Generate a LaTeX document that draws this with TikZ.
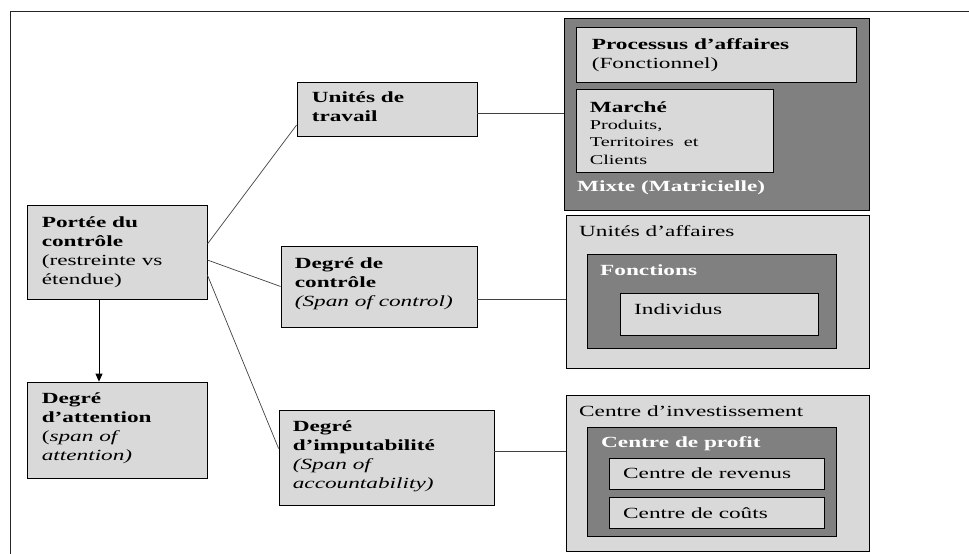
\documentclass[tikz,border=0pt]{standalone}
\usepackage{fontspec}
\setmainfont{Liberation Serif}[FakeStretch=1.5, BoldFeatures={FakeStretch=1.5}, ItalicFeatures={FakeStretch=1.5}]
\usepackage{tikz}
\usetikzlibrary{shapes.geometric, arrows.meta}
\definecolor{boxlight}{HTML}{D9D9D9}
\definecolor{boxdark}{HTML}{808080}
\definecolor{linegray}{HTML}{404040}
\newcommand{\fsize}{\fontsize{15.5}{19}\selectfont}
\newcommand{\fsmall}{\fontsize{13.5}{17.3}\selectfont}
\tikzstyle{box} = [rectangle, draw=black, fill=boxlight, line width=0.8pt, inner sep=0pt]
\tikzstyle{darkbox} = [box, fill=boxdark]
\tikzstyle{txt} = [anchor=west, align=left, inner sep=0pt, font=\fsize]
\tikzstyle{title} = [anchor=base west, inner sep=0pt, font=\fsize]
\tikzstyle{link} = [line width=0.7pt, draw=linegray]
\tikzstyle{arrow} = [line width=0.8pt, -{Triangle[length=8pt,width=7pt]}]

\begin{document}
\begin{tikzpicture}[x=1pt, y=-1pt]

		\useasboundingbox (0,0) rectangle (969,554);
		\draw [line width=0.8pt, draw=black!85] (969,11) -- (10,11) -- (10,554);

		% colonne de gauche
		\node (portee) [box, minimum width=180pt, minimum height=94pt] at (117,252) {};
		\node (porteetxt) [txt] at ([xshift=15pt]portee.west) {\textbf{Portée du}\\\textbf{contrôle}\\(restreinte vs\\étendue)};
		\node (attention) [box, minimum width=180pt, minimum height=96pt] at (117,430) {};
		\node (attentiontxt) [txt] at ([xshift=15pt, yshift=1.5pt]attention.west) {\textbf{Degré}\\\textbf{d’attention}\\(\textit{span of}\\\textit{attention)}};

		% colonne du milieu
		\node (unites) [box, minimum width=180pt, minimum height=54pt] at (387,109) {};
		\node (unitestxt) [txt] at ([xshift=15pt, yshift=2pt]unites.west) {\textbf{Unités de}\\\textbf{travail}};
		\node (controle) [box, minimum width=196pt, minimum height=81pt] at (379,286.5) {};
		\node (controletxt) [txt] at ([xshift=14pt, yshift=3pt]controle.west) {\textbf{Degré de}\\\textbf{contrôle}\\\textit{(Span of control)}};
		\node (imput) [box, minimum width=215pt, minimum height=95pt] at (386.5,457.5) {};
		\node (imputtxt) [txt] at ([xshift=14pt, yshift=1pt]imput.west) {\textbf{Degré}\\\textbf{d’imputabilité}\\\textit{(Span of}\\\textit{accountability)}};

		% colonne de droite
		\node (mixte) [darkbox, minimum width=305pt, minimum height=192pt] at (716.5,114) {};
		\node (processus) [box, minimum width=280pt, minimum height=55pt] at (716,54.5) {};
		\node (processustxt) [txt] at ([xshift=16pt, yshift=-0.5pt]processus.west) {\textbf{Processus d’affaires}\\(Fonctionnel)};
		\node (marche) [box, minimum width=197pt, minimum height=83pt] at (674.5,130.5) {};
		\node (marchetxt) [txt, font=\fsmall] at ([xshift=14pt, yshift=-2.5pt]marche.west) {{\fontsize{15.5}{17.3}\selectfont\textbf{Marché}}\\Produits,\\Territoires\ \ et\\Clients};
		\node (mixtelabel) [title, text=white] at (577,191) {\textbf{Mixte (Matricielle)}};

		\node (uaff) [box, minimum width=303pt, minimum height=153pt] at (717.5,291.5) {};
		\node (uafflabel) [title] at (579,236.5) {Unités d’affaires};
		\node (fonctions) [darkbox, minimum width=249pt, minimum height=94pt] at (711.5,301) {};
		\node (fonctionslabel) [title, text=white] at (600,275) {\textbf{Fonctions}};
		\node (individus) [box, minimum width=198pt, minimum height=42pt] at (719,314) {};
		\node (individuslabel) [title] at (634,314) {Individus};

		\node (cinv) [box, minimum width=303pt, minimum height=156pt] at (717.5,473) {};
		\node (cinvlabel) [title] at (579,416.5) {Centre d’investissement};
		\node (cprofit) [darkbox, minimum width=249pt, minimum height=109pt] at (711.5,481.5) {};
		\node (cprofitlabel) [title, text=white] at (601,447) {\textbf{Centre de profit}};
		\node (crev) [box, minimum width=215pt, minimum height=31pt] at (716.5,473.5) {};
		\node (crevlabel) [title] at (623,478.5) {Centre de revenus};
		\node (ccout) [box, minimum width=215pt, minimum height=31pt] at (716.5,512.5) {};
		\node (ccoutlabel) [title] at (623,518) {Centre de coûts};

		\draw [arrow] (portee.south -| 99,0) -- (attention.north -| 99,0);
		\draw [link] ([yshift=8pt]portee.east) -- ([yshift=-16pt]unites.west);
		\draw [link] ([yshift=-8pt]portee.east) -- (controle.west);
		\draw [link] ([yshift=-23pt]portee.east) -- ([yshift=9pt]imput.west);
		\draw [link] ([yshift=-4pt]unites.east) -- ([yshift=-4pt]unites.east -| mixte.west);
		\draw [link] ([yshift=-12.5pt]controle.east) -- ([yshift=-12.5pt]controle.east -| uaff.west);
		\draw [link] ([yshift=6.5pt]imput.east) -- ([yshift=6.5pt]imput.east -| cinv.west);

\end{tikzpicture}
\end{document}
